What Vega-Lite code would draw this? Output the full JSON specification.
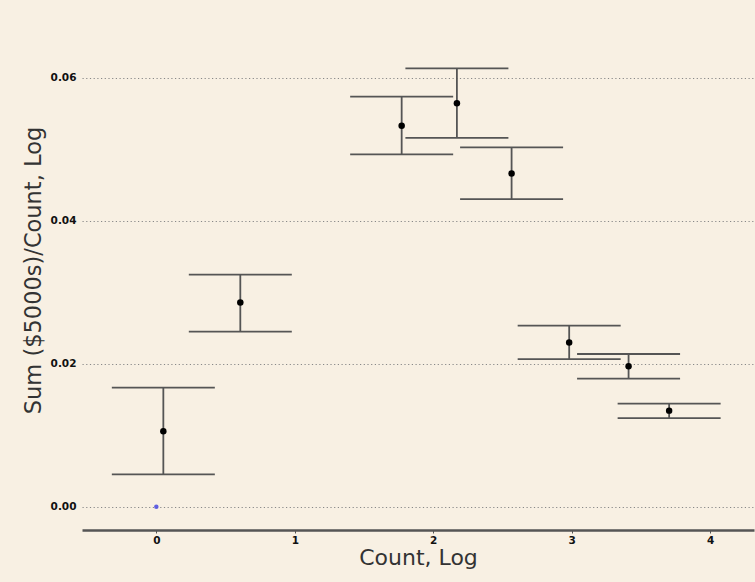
{
  "$schema": "https://vega.github.io/schema/vega-lite/v6.json",
  "width": 672,
  "height": 520,
  "autosize": {"type": "none"},
  "padding": {"left": 82, "top": 10, "right": 1, "bottom": 52},
  "background": "#f8f0e3",
  "config": {
    "view": {"stroke": null},
    "font": "DejaVu Sans"
  },
  "datasets": {
    "stats": [
      {"x": 0.0505, "y": 0.01055, "lo": 0.00452, "hi": 0.01667},
      {"x": 0.6065, "y": 0.02857, "lo": 0.02449, "hi": 0.03247},
      {"x": 1.772, "y": 0.05331, "lo": 0.0493, "hi": 0.05737},
      {"x": 2.171, "y": 0.05644, "lo": 0.05162, "hi": 0.06134},
      {"x": 2.566, "y": 0.04664, "lo": 0.04304, "hi": 0.05028},
      {"x": 2.982, "y": 0.02297, "lo": 0.02067, "hi": 0.02535},
      {"x": 3.411, "y": 0.01965, "lo": 0.01793, "hi": 0.02137},
      {"x": 3.704, "y": 0.01345, "lo": 0.01241, "hi": 0.01443}
    ],
    "ref": [
      {"x": 0, "y": 0}
    ]
  },
  "layer": [
    {
      "data": {"name": "stats"},
      "mark": {"type": "rule", "color": "#555555", "strokeWidth": 1.8},
      "encoding": {
        "x": {
          "field": "x", "type": "quantitative",
          "scale": {"domain": [-0.537, 4.317], "nice": false, "zero": false},
          "axis": {
            "values": [0, 1, 2, 3, 4],
            "format": "d",
            "title": "Count, Log",
            "titleFontSize": 22,
            "titleFontWeight": "normal",
            "titleColor": "#333333",
            "titlePadding": 2,
            "labelFontSize": 10.5,
            "labelFontWeight": "bold",
            "labelColor": "#111111",
            "labelPadding": 2,
            "domainColor": "#555555",
            "domainWidth": 2.5,
            "tickColor": "#555555",
            "tickSize": 3,
            "grid": false
          }
        },
        "y": {
          "field": "lo", "type": "quantitative",
          "scale": {"domain": [-0.00325, 0.0695], "nice": false, "zero": false},
          "axis": {
            "values": [0, 0.02, 0.04, 0.06],
            "format": ".2f",
            "title": "Sum ($5000s)/Count, Log",
            "titleFontSize": 22.5,
            "titleFontWeight": "normal",
            "titleColor": "#333333",
            "titlePadding": 5,
            "labelFontSize": 10.5,
            "labelFontWeight": "bold",
            "labelColor": "#111111",
            "labelPadding": 6,
            "domain": false,
            "ticks": false,
            "grid": true,
            "gridColor": "#888888",
            "gridDash": [1.2, 2.5],
            "gridWidth": 1.2
          }
        },
        "y2": {"field": "hi"}
      }
    },
    {
      "data": {"name": "stats"},
      "mark": {"type": "tick", "orient": "horizontal", "size": 103, "thickness": 1.8, "color": "#555555", "opacity": 1},
      "encoding": {
        "x": {"field": "x", "type": "quantitative"},
        "y": {"field": "lo", "type": "quantitative"}
      }
    },
    {
      "data": {"name": "stats"},
      "mark": {"type": "tick", "orient": "horizontal", "size": 103, "thickness": 1.8, "color": "#555555", "opacity": 1},
      "encoding": {
        "x": {"field": "x", "type": "quantitative"},
        "y": {"field": "hi", "type": "quantitative"}
      }
    },
    {
      "data": {"name": "stats"},
      "mark": {"type": "circle", "size": 42, "color": "#000000", "opacity": 1},
      "encoding": {
        "x": {"field": "x", "type": "quantitative"},
        "y": {"field": "y", "type": "quantitative"}
      }
    },
    {
      "data": {"name": "ref"},
      "mark": {"type": "circle", "size": 20, "color": "#5050e0", "opacity": 0.9},
      "encoding": {
        "x": {"field": "x", "type": "quantitative"},
        "y": {"field": "y", "type": "quantitative"}
      }
    }
  ]
}
